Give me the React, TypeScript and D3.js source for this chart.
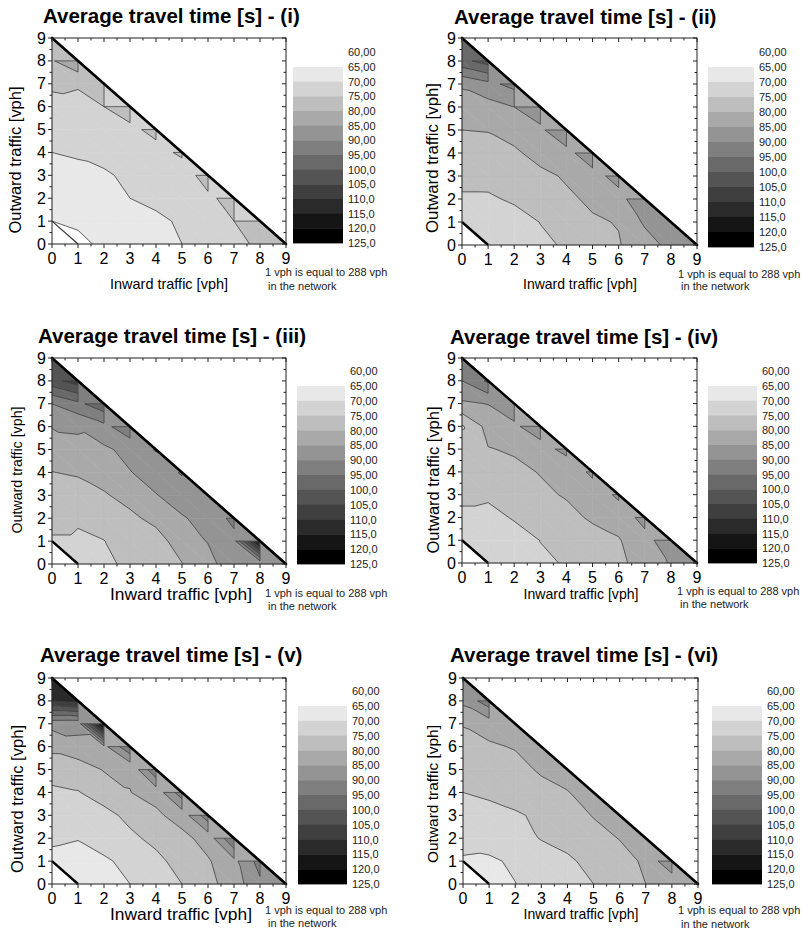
import React from "react";
import * as d3 from "d3";

// ---------------- data ----------------
const TITLES = [
  "Average travel time [s] - (i)",
  "Average travel time [s] - (ii)",
  "Average travel time [s] - (iii)",
  "Average travel time [s] - (iv)",
  "Average travel time [s] - (v)",
  "Average travel time [s] - (vi)",
];
const LEVELS = [65, 70, 75, 80, 85, 90, 95, 100, 105, 110, 115, 120, 125];
const LEGEND_LABELS = ["60,00", "65,00", "70,00", "75,00", "80,00", "85,00", "90,00", "95,00", "100,0", "105,0", "110,0", "115,0", "120,0", "125,0"];
const BAND_GRAYS = [232, 211, 190, 169, 148, 127, 105, 84, 63, 42, 21, 0];
const AXIS_TICKS = [0, 1, 2, 3, 4, 5, 6, 7, 8, 9];
const X_LABEL = "Inward traffic [vph]";
const Y_LABEL = "Outward traffic [vph]";
const NOTE_1 = "1 vph is equal to 288 vph";
const NOTE_2 = " in the network";

// node values: row j (outward traffic), entry i (inward traffic), i + j <= 9
const GRID_I = [
  [60, 63, 66.6, 68, 69, 70, 72, 73.5, 76, 77],
  [65, 66.33, 67, 68, 69, 70.67, 72.5, 75, 77],
  [66, 67, 68, 70, 71.2, 72, 74, 77],
  [67.5, 68.5, 69, 71.5, 72, 72.4, 77.33],
  [70, 70.64, 72.33, 73, 73.5, 75.8],
  [72, 72.5, 73.5, 74, 76.23],
  [74, 74.3, 75, 77.33],
  [75.54, 75.23, 77],
  [79.5, 84.5],
  [78],
];
const RIM_TOP_I = [78, 78, 74, 73, 73, 73, 73, 73, 77];
const RIM_RIGHT_I = [78, 76, 73, 73, 73, 73, 73, 74.9, 77];

const GRID_II = [
  [70, 72, 73, 74.3, 75.4, 77.5, 79.7, 82.7, 86.5, 90],
  [72.5, 73, 73.5, 75.08, 77, 79.53, 80.2, 85.77, 88],
  [74.5, 74.5, 75.5, 77.5, 79.3, 80.7, 83, 89.67],
  [76.1, 76.17, 77.5, 79, 80.47, 83, 87],
  [78, 78.5, 79.3, 81.5, 83.2, 88.7],
  [80, 80.17, 81.63, 84, 89.6],
  [82.3, 83, 85, 88],
  [85.77, 88.65, 91.6],
  [98.6, 102.2],
  [98],
];
const RIM_TOP_II = [98, 88, 84, 84, 84, 84, 84, 85.5, 88];
const RIM_RIGHT_II = [97, 88, 84, 84, 84, 84, 84.9, 87, 89];

const GRID_III = [
  [70, 72, 73.5, 76.5, 78.3, 79.8, 83.5, 87.8, 85.2, 88],
  [74, 74, 74.9, 77, 77.5, 83, 85.2, 88.2, 120],
  [77.7, 75.8, 77, 78.7, 81.67, 84.6, 86.5, 91.5],
  [78.8, 78, 79.4, 82, 84.8, 87, 89],
  [79.9, 80.5, 82.5, 84.8, 87, 90.53],
  [82.5, 84.4, 84.1, 86.5, 90.4],
  [85.2, 85.3, 88.5, 93.5],
  [90, 93.75, 98.5],
  [103.2, 107.6],
  [105],
];
const RIM_TOP_III = [103, 93, 88, 88, 88, 88, 88, 88, 88];
const RIM_RIGHT_III = [103, 93, 88, 88, 88, 88, 88, 88, 89];

const GRID_IV = [
  [68, 71, 72.5, 74.3, 75.3, 77, 79, 81.9, 85.46, 87],
  [71.5, 72, 73, 75.08, 77, 78.4, 79.7, 83, 88.6],
  [73.5, 73.5, 75.4, 77, 78.8, 80.6, 81.6, 87],
  [76.5, 75.8, 77.5, 79.2, 80.36, 81.25, 86.2],
  [77.5, 78.5, 79, 80.2, 80.6, 86.46],
  [78.5, 79.8, 80.5, 82.5, 86.9],
  [74.4, 81.7, 84, 88.5],
  [84.25, 85.17, 88.5],
  [90, 95.9],
  [92],
];
const RIM_TOP_IV = [92, 87, 83, 83, 83, 83, 83, 83, 87];
const RIM_RIGHT_IV = [92, 87, 83, 83, 83, 83, 83, 83, 88];

const GRID_V = [
  [64, 66, 68, 70, 72.5, 75, 78.5, 82.5, 89, 90],
  [68, 67.3, 69.2, 71.5, 74, 76.5, 79.5, 83.7, 92],
  [71.2, 70.3, 72.4, 74.2, 76, 78.5, 82, 95],
  [72.7, 73.5, 73.8, 76, 79, 82.25, 93],
  [74.1, 74.8, 76.8, 79.9, 81.86, 93],
  [77, 77, 80.36, 80.5, 94.4],
  [81.3, 83.7, 83.5, 94.3],
  [86.5, 86.3, 125],
  [110, 112],
  [112],
];
const RIM_TOP_V = [112, 87, 84, 84, 84, 84, 84, 84, 88];
const RIM_RIGHT_V = [111, 88, 84, 84, 84, 84, 84, 84, 88];

const GRID_VI = [
  [66, 67, 69.9, 72.5, 73.8, 75, 77.5, 80, 80.8, 83],
  [69.5, 69.2, 70.8, 73, 74.3, 76.3, 78, 80.86, 89.7],
  [71.5, 72.2, 73.5, 75.2, 76.4, 78, 80.2, 83],
  [73.5, 73.5, 74.5, 75.75, 77.5, 80.3, 83],
  [75, 75.8, 76.7, 78, 79.7, 83],
  [76.7, 77.8, 78, 80.8, 82.7],
  [78.5, 79.2, 80.4, 83],
  [80.25, 82.4, 83.5],
  [86.2, 93],
  [87],
];
const RIM_TOP_VI = [87, 83, 83, 83, 83, 83, 83, 83, 83];
const RIM_RIGHT_VI = [87, 83, 83, 83, 83, 83, 83, 83, 83];

const DATASETS = [
  { grid: GRID_I, rimTop: RIM_TOP_I, rimRight: RIM_RIGHT_I },
  { grid: GRID_II, rimTop: RIM_TOP_II, rimRight: RIM_RIGHT_II },
  { grid: GRID_III, rimTop: RIM_TOP_III, rimRight: RIM_RIGHT_III },
  { grid: GRID_IV, rimTop: RIM_TOP_IV, rimRight: RIM_RIGHT_IV },
  { grid: GRID_V, rimTop: RIM_TOP_V, rimRight: RIM_RIGHT_V },
  { grid: GRID_VI, rimTop: RIM_TOP_VI, rimRight: RIM_RIGHT_VI },
];

// ---------------- layout ----------------
const LAYOUT = [
  { tx: 43, ty: 23, px0: 52, px1: 286, py0: 244, py1: 38, lx0: 293, lx1: 343, lt: 67, lb: 243, nx: 265, ny1: 276, ny2: 290, xlx: 169, xly: 284, xlLen: 118, xlFs: 14.5, ylx: 15, yly: 160, ylLen: 147, ylFs: 16.5, cornerW: 1.2 },
  { tx: 454, ty: 24, px0: 462, px1: 697, py0: 245, py1: 38, lx0: 708, lx1: 754, lt: 67, lb: 247, nx: 678, ny1: 278, ny2: 290, xlx: 580, xly: 284, xlLen: 114, xlFs: 14.5, ylx: 432, yly: 158, ylLen: 150, ylFs: 16.5, cornerW: 2.4 },
  { tx: 38, ty: 343, px0: 52, px1: 286, py0: 564, py1: 358, lx0: 297, lx1: 345, lt: 386, lb: 564, nx: 265, ny1: 597, ny2: 610, xlx: 181, xly: 594, xlLen: 142, xlFs: 17, ylx: 17, yly: 470, ylLen: 127, ylFs: 14.5, cornerW: 2.4 },
  { tx: 450, ty: 344, px0: 462, px1: 697, py0: 563, py1: 358, lx0: 708, lx1: 757, lt: 386, lb: 563, nx: 677, ny1: 595, ny2: 608, xlx: 581, xly: 594, xlLen: 115, xlFs: 14.5, ylx: 433, yly: 480, ylLen: 147, ylFs: 16.5, cornerW: 2.4 },
  { tx: 40, ty: 662, px0: 52, px1: 286, py0: 884, py1: 678, lx0: 298, lx1: 347, lt: 706, lb: 884, nx: 265, ny1: 914, ny2: 927, xlx: 181, xly: 914, xlLen: 142, xlFs: 17, ylx: 17, yly: 799, ylLen: 148, ylFs: 16.5, cornerW: 2.4 },
  { tx: 450, ty: 662, px0: 463, px1: 698, py0: 884, py1: 678, lx0: 712, lx1: 762, lt: 706, lb: 884, nx: 678, ny1: 914, ny2: 928, xlx: 581, xly: 914, xlLen: 115, xlFs: 14.5, ylx: 432, yly: 794, ylLen: 138, ylFs: 15.5, cornerW: 2.4 },
];

const FONT = "'Liberation Sans', Arial, Helvetica, sans-serif";
const LINE_COLOR = "#404040";

// ---------------- geometry helpers ----------------
type P = { x: number; y: number; v: number };

function buildTriangles(grid: number[][], rimTop: number[], rimRight: number[]): P[][] {
  const g = (i: number, j: number): P => ({ x: i, y: j, v: grid[j][i] });
  const tris: P[][] = [];
  for (let j = 0; j <= 7; j++) {
    for (let i = 0; i + j <= 7; i++) {
      if (!(i === 0 && j === 0)) tris.push([g(i, j), g(i + 1, j), g(i, j + 1)]);
      tris.push([g(i + 1, j), g(i + 1, j + 1), g(i, j + 1)]);
    }
  }
  for (let i = 0; i <= 8; i++) {
    const j = 8 - i;
    tris.push([g(i, j), { x: i + 1, y: j, v: rimRight[i] }, { x: i, y: j + 1, v: rimTop[i] }]);
  }
  return tris;
}

function clip(poly: P[], f: (p: P) => number): P[] {
  const out: P[] = [];
  for (let k = 0; k < poly.length; k++) {
    const a = poly[k];
    const b = poly[(k + 1) % poly.length];
    const fa = f(a);
    const fb = f(b);
    if (fa >= 0) out.push(a);
    if (fa >= 0 !== fb >= 0) {
      const t = fa / (fa - fb);
      out.push({ x: a.x + t * (b.x - a.x), y: a.y + t * (b.y - a.y), v: a.v + t * (b.v - a.v) });
    }
  }
  return out;
}

function area(poly: P[]): number {
  let s = 0;
  for (let k = 0; k < poly.length; k++) {
    const a = poly[k];
    const b = poly[(k + 1) % poly.length];
    s += a.x * b.y - b.x * a.y;
  }
  return Math.abs(s) / 2;
}

function band(v: number): number {
  if (v < LEVELS[0]) return -1;
  for (let k = LEVELS.length - 1; k >= 0; k--) if (v >= LEVELS[k]) return k;
  return -1;
}

function bandColor(b: number): string {
  if (b < 0) return "#ffffff";
  const g = b >= BAND_GRAYS.length ? 0 : BAND_GRAYS[b];
  return d3.rgb(g, g, g).formatHex();
}

function contourSeg(t: P[], c: number): [number, number][] | null {
  const pts: [number, number][] = [];
  for (let k = 0; k < 3; k++) {
    const a = t[k];
    const b = t[(k + 1) % 3];
    const ia = a.v >= c;
    const ib = b.v >= c;
    if (ia !== ib) {
      const tt = (c - a.v) / (b.v - a.v);
      pts.push([a.x + tt * (b.x - a.x), a.y + tt * (b.y - a.y)]);
    }
  }
  if (pts.length !== 2) return null;
  const d = Math.hypot(pts[0][0] - pts[1][0], pts[0][1] - pts[1][1]);
  return d > 1e-6 ? pts : null;
}

// edges where strip triangles meet inner triangles with different node values
function seamSegments(grid: number[][], rimTop: number[], rimRight: number[]): [number, number][][] {
  const segs: [number, number][][] = [];
  const handle = (p: [number, number], q: [number, number], a: number, hIn: number, hOut: number) => {
    const ts = [0, 1];
    for (const c of LEVELS) {
      if (hIn !== a) { const t = (c - a) / (hIn - a); if (t > 0 && t < 1) ts.push(t); }
      if (hOut !== a) { const t = (c - a) / (hOut - a); if (t > 0 && t < 1) ts.push(t); }
    }
    ts.sort((m, n) => m - n);
    let start: number | null = null;
    for (let k = 0; k < ts.length - 1; k++) {
      const m = (ts[k] + ts[k + 1]) / 2;
      const diff = band(a + m * (hIn - a)) !== band(a + m * (hOut - a));
      if (diff && start === null) start = ts[k];
      if (!diff && start !== null) {
        segs.push([[p[0] + start * (q[0] - p[0]), p[1] + start * (q[1] - p[1])], [p[0] + ts[k] * (q[0] - p[0]), p[1] + ts[k] * (q[1] - p[1])]]);
        start = null;
      }
    }
    if (start !== null) segs.push([[p[0] + start * (q[0] - p[0]), p[1] + start * (q[1] - p[1])], q]);
  };
  for (let i = 0; i <= 8; i++) {
    const j = 8 - i;
    const a = grid[j][i];
    if (j >= 1) handle([i, j], [i + 1, j], a, grid[j][i + 1], rimRight[i]);
    if (i >= 1) handle([i, j], [i, j + 1], a, grid[j + 1][i], rimTop[i]);
  }
  return segs;
}

// ---------------- panel ----------------
function Panel({ idx }: { idx: number }) {
  const L = LAYOUT[idx];
  const D = DATASETS[idx];
  const x = d3.scaleLinear().domain([0, 9]).range([L.px0, L.px1]);
  const y = d3.scaleLinear().domain([0, 9]).range([L.py0, L.py1]);
  const line = d3.line<[number, number]>().x((d) => x(d[0])).y((d) => y(d[1]));

  const tris = buildTriangles(D.grid, D.rimTop, D.rimRight);
  const fills: { d: string; c: string }[] = [];
  const lines: string[] = [];
  for (const t of tris) {
    for (let b = -1; b < LEVELS.length; b++) {
      const lo = b === -1 ? null : LEVELS[b];
      const hi = b + 1 < LEVELS.length ? LEVELS[b + 1] : null;
      let poly = t;
      if (lo !== null) poly = clip(poly, (p) => p.v - lo);
      if (hi !== null && poly.length) poly = clip(poly, (p) => hi - p.v);
      if (poly.length >= 3 && area(poly) > 1e-7) {
        fills.push({ d: line(poly.map((p) => [p.x, p.y] as [number, number])) + "Z", c: bandColor(b) });
      }
    }
    for (const c of LEVELS) {
      const s = contourSeg(t, c);
      if (s) lines.push(line(s) as string);
    }
  }
  for (const s of seamSegments(D.grid, D.rimTop, D.rimRight)) lines.push(line(s) as string);

  const h = (L.lb - L.lt) / BAND_GRAYS.length;
  const minor = AXIS_TICKS.slice(0, -1).map((k) => k + 0.5);

  return (
    <g>
      <text x={L.tx} y={L.ty} fontFamily={FONT} fontWeight="bold" fontSize={20.5} fill="#000">{TITLES[idx]}</text>
      {fills.map((f, k) => (
        <path key={"f" + k} d={f.d} fill={f.c} stroke={f.c} strokeWidth={0.6} strokeLinejoin="round" />
      ))}
      {lines.map((d, k) => (
        <path key={"l" + k} d={d} fill="none" stroke={LINE_COLOR} strokeWidth={0.8} />
      ))}
      <line x1={x(0)} y1={y(9)} x2={x(9)} y2={y(0)} stroke="#000" strokeWidth={2.6} strokeLinecap="round" />
      <line x1={x(0)} y1={y(1)} x2={x(1)} y2={y(0)} stroke={idx === 0 ? "#333" : "#000"} strokeWidth={L.cornerW} />
      <rect x={L.px0} y={L.py1} width={L.px1 - L.px0} height={L.py0 - L.py1} fill="none" stroke="#222" strokeWidth={1} />
      {AXIS_TICKS.map((k) => (
        <g key={"t" + k}>
          <line x1={x(k)} x2={x(k)} y1={L.py0} y2={L.py0 + 4} stroke="#222" />
          <line x1={x(k)} x2={x(k)} y1={L.py1} y2={L.py1 + 4} stroke="#222" />
          <line x1={L.px0 - 4} x2={L.px0} y1={y(k)} y2={y(k)} stroke="#222" />
          <line x1={L.px1 - 4} x2={L.px1} y1={y(k)} y2={y(k)} stroke="#222" />
          <text x={x(k)} y={L.py0 + 14} textAnchor="middle" dominantBaseline="central" fontFamily={FONT} fontSize={16}>{k}</text>
          <text x={L.px0 - 6} y={y(k)} textAnchor="end" dominantBaseline="central" fontFamily={FONT} fontSize={16}>{k}</text>
        </g>
      ))}
      {minor.map((k) => (
        <g key={"m" + k}>
          <line x1={x(k)} x2={x(k)} y1={L.py0} y2={L.py0 + 2.5} stroke="#222" />
          <line x1={x(k)} x2={x(k)} y1={L.py1} y2={L.py1 + 2.5} stroke="#222" />
          <line x1={L.px0 - 2.5} x2={L.px0} y1={y(k)} y2={y(k)} stroke="#222" />
          <line x1={L.px1 - 2.5} x2={L.px1} y1={y(k)} y2={y(k)} stroke="#222" />
        </g>
      ))}
      <text x={L.xlx} y={L.xly} textAnchor="middle" dominantBaseline="central" fontFamily={FONT} fontSize={L.xlFs} textLength={L.xlLen} lengthAdjust="spacingAndGlyphs">{X_LABEL}</text>
      <text transform={`translate(${L.ylx},${L.yly}) rotate(-90)`} textAnchor="middle" dominantBaseline="central" fontFamily={FONT} fontSize={L.ylFs} textLength={L.ylLen} lengthAdjust="spacingAndGlyphs">{Y_LABEL}</text>
      {BAND_GRAYS.map((g, k) => (
        <rect key={"lg" + k} x={L.lx0} y={L.lt + k * h} width={L.lx1 - L.lx0} height={h + 0.4} fill={bandColor(k)} />
      ))}
      {LEGEND_LABELS.map((s, k) => (
        <text key={"ll" + k} x={L.lx1 + 5} y={L.lt + (k - 1) * h} dominantBaseline="central" fontFamily={FONT} fontSize={11} fill="#222">{s}</text>
      ))}
      <text x={L.nx} y={L.ny1} fontFamily={FONT} fontSize={11} fill="#222">{NOTE_1}</text>
      <text x={L.nx} y={L.ny2} fontFamily={FONT} fontSize={11} fill="#222" style={{ whiteSpace: "pre" }}>{NOTE_2}</text>
    </g>
  );
}

export default function App() {
  return (
    <svg width={802} height={934} style={{ position: "absolute", left: 0, top: 0, background: "#fff" }}>
      <rect x={0} y={0} width={802} height={934} fill="#fff" />
      {DATASETS.map((_, k) => (
        <Panel key={k} idx={k} />
      ))}
    </svg>
  );
}
